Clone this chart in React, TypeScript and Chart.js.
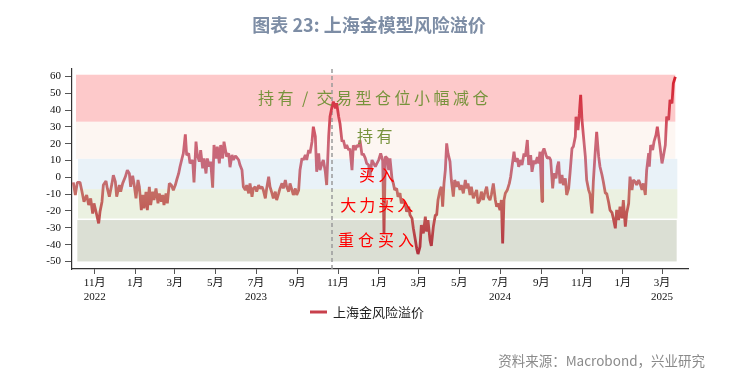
import React, { useEffect, useRef } from "react";
import { Chart, registerables } from "chart.js";

Chart.register(...registerables);

// ---------- data ----------
const BASE_DATE = "2022-09-28"; // day 0 of the x axis
const AXIS_END_DAY = 924;

// day offsets from BASE_DATE
const days = [
  2, 5, 8, 12, 15, 18, 22, 25, 28, 31, 33, 36, 40, 42, 45, 47, 51, 53, 56, 60,
  62, 65, 67, 71, 73, 76, 80, 83, 86, 88, 91, 93, 96, 99, 101, 104, 106, 108, 111, 113,
  116, 118, 121, 123, 126, 129, 131, 134, 136, 138, 141, 143, 146, 149, 152, 155, 157, 160, 162, 165,
  167, 170, 172, 175, 177, 181, 183, 186, 188, 191, 193, 196, 198, 201, 203, 206, 208, 211, 213, 216,
  218, 221, 223, 226, 228, 232, 235, 237, 240, 242, 245, 247, 250, 252, 255, 257, 260, 262, 265, 267,
  270, 272, 275, 277, 280, 282, 285, 287, 290, 292, 295, 297, 300, 302, 305, 307, 310, 312, 315, 317,
  320, 322, 325, 327, 330, 332, 335, 337, 340, 342, 345, 347, 350, 352, 355, 357, 360, 362, 365, 367,
  370, 372, 375, 377, 380, 382, 385, 387, 390, 392, 395, 397, 400, 402, 405, 407, 410, 412, 415, 417,
  420, 422, 425, 427, 430, 432, 435, 437, 440, 442, 445, 447, 450, 455, 460, 463, 466, 468, 470, 473,
  475, 477, 480, 482, 484, 487, 489, 492, 494, 497, 500, 502, 505, 507, 510, 512, 515, 517, 519, 522,
  524, 527, 530, 532, 534, 537, 539, 542, 545, 547, 549, 552, 554, 556, 558, 560, 562, 564, 567, 569,
  572, 574, 577, 579, 582, 584, 587, 590, 592, 594, 597, 599, 602, 605, 607, 609, 612, 614, 617, 619,
  622, 624, 627, 629, 632, 635, 637, 639, 642, 644, 646, 648, 650, 653, 656, 658, 660, 663, 665, 668,
  670, 673, 675, 678, 680, 683, 685, 688, 690, 693, 695, 698, 700, 702, 705, 706, 708, 711, 713, 716,
  718, 721, 723, 726, 728, 730, 732, 735, 737, 740, 742, 745, 747, 750, 752, 755, 756, 759, 761, 763,
  765, 767, 770, 772, 775, 777, 780, 782, 785, 787, 790, 792, 795, 797, 800, 802, 805, 807, 810, 812,
  815, 817, 820, 822, 825, 827, 830, 832, 835, 837, 840, 842, 845, 847, 850, 852, 855, 857, 860, 862,
  865, 866, 868, 871, 873, 876, 878, 880, 882, 885, 887, 890, 892, 895, 897, 900, 902, 905,
];

const premium = [
  -3, -10.5, -3, -3, -8.6, -14.5, -10.5, -16.5, -12.5, -21.5, -15.5, -20.5, -27.4, -20.5, -14.5, -4.6, -2.2, -6.6, -11.5, -3.6,
  1.3, -2.6, -11.5, -4.6, -8.6, -3.6, 0.3, 4.3, 2.3, -5.6, 0.9, -3.6, -12.5, -1.6, -5.6, -19.5, -10.5, -18.5, -8.6, -19.5,
  -5.6, -16.5, -8.6, -13.5, -6.6, -15.5, -9.6, -14.5, -10.5, -16.5, -9.6, -15.5, -3.6, -4.6, -7.6, -4.6, -1.6, 2.3, 6.3, 11.2,
  14.2, 25.5, 13.2, 14.2, 8.3, 10.3, -3, 21.2, 13.2, 9.3, 16.2, 5.3, 11.2, 2.3, 11.2, 6.3, 9.3, -6.2, 19.2, 11.2,
  18.2, 8.3, 19.2, 11.2, 21.2, 12.3, 14.3, 6, 13.3, 10.3, 12.7, 11.9, 10.3, 7.3, 4.3, -5.6, -7.6, -4.6, -9.5, -3.6,
  -11.5, -6.6, -5.6, -8.5, -4.6, -6.6, -5.6, -7.6, -12.5, -6.6, 0.4, -5.6, -9.5, -12.5, -8.5, -13.5, -9.5, -6.6, -3.6, -6.6,
  -1.6, -5.6, -8.5, -3.6, -7.6, -10.5, -6.6, -10.5, -7.6, 4.3, 11.3, 10.3, 13.3, 10.3, 16.2, 14.3, 21.2, 30.1, 24.2, 3.3,
  14.3, 4.3, 8.3, 10.3, 3.3, -4.6, 24.2, 36.1, 42, 45, 41, 44, 36, 32, 21.2, 22.2, 17.2, 19.2, 16.2, 17,
  4.3, 19, 16.2, 19, 18.2, 22, 13.3, 14, 11.3, 8.3, 7.3, 0.4, 10.3, 6.3, 10.3, 14.2, 10, -33.5, 12.3, 11.3,
  4.3, 11.3, -1, -3.6, -7.5, -6.6, -11.5, -9.5, -15.5, -13.5, -16.5, -20.4, -17.5, -22.4, -24.4, -30.3, -37.3, -42.2, -45.6, -41.2,
  -28.4, -33.3, -23.4, -32.3, -25.4, -37.3, -40.8, -29.4, -22.4, -22.4, -13.5, -7.5, -5.6, -17.5, -3.6, 4.3, 20.2, 14.2, 9.3, -1.6,
  -11.5, -1.6, -5.6, -2.6, -7.5, -4.6, -9.5, -1.6, -6.6, -3.6, -10.5, -5.6, -12.5, -9.5, -7.5, -15.5, -13.5, -8.5, -13.5, -9.5,
  -5.6, -11.5, -13.5, -10.5, -3.6, -13.5, -17.5, -15.5, -19.5, -13.5, -39.3, -13.5, -9.5, -7.5, -3.6, 0.4, 6.3, 15.2, 9.3, 11.3,
  6.3, 10.3, 7.3, 14.2, 12.3, 22.2, 7.3, 13.2, 3.3, 10, 8, 12, 8.3, 15.2, -14.5, 15.2, 17.2, 13.3, 11.3, 11.9,
  10.3, -6.6, 2.4, -0.6, 6.3, 9.3, -3.6, 1.4, -4.6, -0.6, -10.5, -6.6, 2.4, 17.2, 18.2, 24.2, 36, 28.1, 38, 49,
  34.1, 25.2, 12.3, -1.6, -7.6, -10, -21.4, -2.6, 16.2, 27.1, 12.3, 6.3, 1.4, -2.6, -9.5, -9.5, -15, -19.5, -21, -24.4,
  -30.3, -19.4, -25.4, -17.5, -24.4, -13.5, -29.3, -21.4, -15.5, 0.4, -7.5, -1.6, -2.6, -4.6, -1.6, -3.6, -7.5, -3.6, -10.5, 4.3,
  14.3, 6.3, 19.2, 16.2, 21.2, 25.2, 30.1, 24.2, 18.2, 8.3, 12.3, 19.2, 36.1, 34.1, 46, 44, 55.9, 59.8,
];

const seriesLabel = "上海金风险溢价";

const tickDates = [
  "2022-11-01", "2023-01-01", "2023-03-01", "2023-05-01", "2023-07-01", "2023-09-01", "2023-11-01",
  "2024-01-01", "2024-03-01", "2024-05-01", "2024-07-01", "2024-09-01", "2024-11-01", "2025-01-01", "2025-03-01",
];
const tickMonths = ["11月", "1月", "3月", "5月", "7月", "9月", "11月", "1月", "3月", "5月", "7月", "9月", "11月", "1月", "3月"];
const tickYears = ["2022", "", "", "", "2023", "", "", "", "", "", "2024", "", "", "", "2025"];

const yTicks = [-50, -40, -30, -20, -10, 0, 10, 20, 30, 40, 50, 60];

// zone bands
const bandLow = [33, 11, -7, -24.5, -50];
const bandHigh = [61, 33, 11, -7, -25.4];
const bandFrom = [6, 6, 9, 9, 8];
const bandTo = [905, 905, 908, 908, 907];
const bandColors = ["#fdc9ca", "#fdf6f2", "#e9f2f8", "#ebf1e1", "#dbdfd4"];

// zone notes
const noteTexts = ["持有/交易型仓位小幅减仓", "持有", "买入", "大力买入", "重仓买入"];
const noteDays = [452, 454, 457, 457, 456];
const noteValues = [47.1, 24.6, 1.7, -16.5, -37.3];
const noteColors = ["#77933c", "#77933c", "#ff0000", "#ff0000", "#ff0000"];
const noteAdvance = [19.5, 19.5, 19.5, 19, 20];

const markerDate = "2023-10-23";

const titleText = "图表 23: 上海金模型风险溢价";
const sourceText = "资料来源：Macrobond，兴业研究";

// ---------- helpers ----------
const dayOf = (iso: string) => (Date.parse(iso) - Date.parse(BASE_DATE)) / 86400000;

const SERIF = "'Liberation Serif', 'Noto Sans CJK SC', serif";
const CJK = "'Noto Sans CJK SC', 'Noto Sans', sans-serif";

const lineGradient = (chart: any) => {
  const { ctx, chartArea, scales } = chart;
  if (!chartArea) return "#c8404c";
  const y = scales.y;
  const top = y.getPixelForValue(60);
  const bottom = y.getPixelForValue(-50);
  const g = ctx.createLinearGradient(0, top, 0, bottom);
  g.addColorStop(0, "#d6202e");
  g.addColorStop(0.2, "#d4404f");
  g.addColorStop(0.36, "#cc6676");
  g.addColorStop(0.5, "#c46a7c");
  g.addColorStop(0.64, "#c46c62");
  g.addColorStop(0.78, "#be5050");
  g.addColorStop(1, "#ad2838");
  return g;
};

const bandsPlugin = {
  id: "bands",
  beforeDatasetsDraw(chart: any) {
    const { ctx, chartArea } = chart;
    const x = chart.scales.x;
    const y = chart.scales.y;
    ctx.save();
    for (let i = 0; i < bandLow.length; i++) {
      const x0 = x.getPixelForValue(bandFrom[i]);
      const x1 = x.getPixelForValue(bandTo[i]);
      const y0 = y.getPixelForValue(bandHigh[i]);
      const y1 = y.getPixelForValue(bandLow[i]);
      ctx.fillStyle = bandColors[i];
      ctx.fillRect(x0, y0, x1 - x0, y1 - y0);
    }
    const mx = x.getPixelForValue(dayOf(markerDate));
    ctx.strokeStyle = "#9b9b9b";
    ctx.lineWidth = 1.5;
    ctx.setLineDash([4, 3]);
    ctx.beginPath();
    ctx.moveTo(mx, chartArea.top);
    ctx.lineTo(mx, chartArea.bottom);
    ctx.stroke();
    ctx.restore();
  },
};

const notesPlugin = {
  id: "notes",
  afterDatasetsDraw(chart: any) {
    const { ctx } = chart;
    const x = chart.scales.x;
    const y = chart.scales.y;
    ctx.save();
    ctx.font = `16px ${CJK}`;
    ctx.textAlign = "center";
    ctx.textBaseline = "middle";
    for (let i = 0; i < noteTexts.length; i++) {
      const chars = Array.from(noteTexts[i]);
      const cx = x.getPixelForValue(noteDays[i]);
      const cy = y.getPixelForValue(noteValues[i]);
      const adv = noteAdvance[i];
      const start = cx - ((chars.length - 1) * adv) / 2;
      ctx.fillStyle = noteColors[i];
      chars.forEach((c, k) => ctx.fillText(c, start + k * adv, cy));
    }
    ctx.restore();
  },
};

const framePlugin = {
  id: "frame",
  afterDraw(chart: any) {
    const { ctx } = chart;
    ctx.save();
    // title
    ctx.font = `bold 18px ${CJK}`;
    ctx.fillStyle = "#7d8da5";
    ctx.textAlign = "center";
    ctx.textBaseline = "middle";
    ctx.fillText(titleText, 369, 25);
    // legend
    const ds = chart.data.datasets[0];
    ctx.strokeStyle = "#c8404c";
    ctx.lineWidth = 3;
    ctx.beginPath();
    ctx.moveTo(310, 312);
    ctx.lineTo(327, 312);
    ctx.stroke();
    ctx.font = `13px ${CJK}`;
    ctx.fillStyle = "#222222";
    ctx.textAlign = "left";
    ctx.fillText(ds.label, 333, 312);
    // source
    ctx.font = `13.5px ${CJK}`;
    ctx.fillStyle = "#8a8a8a";
    ctx.textAlign = "right";
    ctx.fillText(sourceText, 705, 361);
    ctx.restore();
  },
};

export default function App() {
  const ref = useRef<HTMLCanvasElement | null>(null);

  useEffect(() => {
    if (!ref.current) return;
    const chart = new Chart(ref.current, {
      type: "line",
      data: {
        datasets: [
          {
            label: seriesLabel,
            data: days.map((d, i) => ({ x: d, y: premium[i] })),
            borderColor: (ctx: any) => lineGradient(ctx.chart),
            borderWidth: 2.8,
            borderJoinStyle: "bevel",
            pointRadius: 0,
            tension: 0,
            fill: false,
          },
        ],
      },
      options: {
        responsive: false,
        animation: false,
        devicePixelRatio: 1,
        layout: { padding: { top: 69, right: 61, left: 0, bottom: 0 } },
        plugins: {
          legend: { display: false },
          title: { display: false },
          tooltip: { enabled: false },
        },
        scales: {
          x: {
            type: "linear",
            min: 0,
            max: AXIS_END_DAY,
            afterBuildTicks: (s: any) => {
              s.ticks = tickDates.map((d) => ({ value: dayOf(d) }));
            },
            afterFit: (s: any) => {
              s.height = 112;
            },
            ticks: {
              autoSkip: false,
              maxRotation: 0,
              padding: 2,
              color: "#111111",
              font: { family: SERIF, size: 11, lineHeight: 1.3 },
              callback: (_v: any, i: number) =>
                tickYears[i] ? [tickMonths[i], tickYears[i]] : tickMonths[i],
            },
            grid: { display: true, drawOnChartArea: false, tickLength: 5, color: "#555555" },
            border: { display: true, color: "#333333", width: 1.2 },
          },
          y: {
            type: "linear",
            min: -54.5,
            max: 64.4,
            afterBuildTicks: (s: any) => {
              s.ticks = yTicks.map((v) => ({ value: v }));
            },
            afterFit: (s: any) => {
              s.width = 72;
            },
            ticks: {
              padding: 4,
              color: "#111111",
              font: { family: SERIF, size: 11 },
              callback: (v: any) => String(v),
            },
            grid: { display: true, drawOnChartArea: false, tickLength: 7, color: "#555555" },
            border: { display: true, color: "#333333", width: 1.2 },
          },
        },
      },
      plugins: [bandsPlugin, notesPlugin, framePlugin],
    } as any);
    return () => chart.destroy();
  }, []);

  return (
    <div style={{ position: "absolute", left: 0, top: 0, width: 749, height: 381, background: "#ffffff" }}>
      <canvas ref={ref} width={749} height={381} style={{ display: "block" }} />
    </div>
  );
}
